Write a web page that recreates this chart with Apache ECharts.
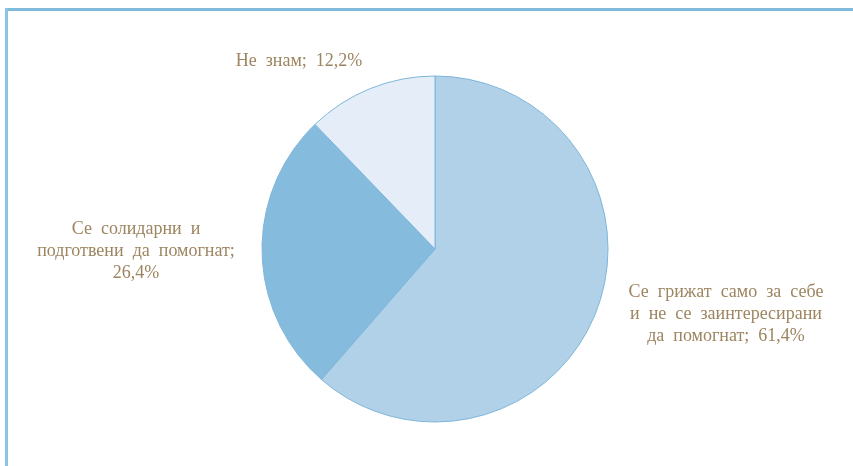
<!DOCTYPE html>
<html>
<head>
<meta charset="utf-8">
<script src="https://cdn.jsdelivr.net/npm/echarts@6/dist/echarts.min.js"></script>
<style>
html,body{margin:0;padding:0;background:#fff;}
#c{width:853px;height:466px;}
</style>
</head>
<body>
<div id="c"></div>
<script>
const categories = [
  'Се  грижат  само  за  себе\nи  не  се  заинтересирани\nда  помогнат;',
  'Се  солидарни  и\nподготвени  да  помогнат;\n',
  'Не  знам;'
];
const values = [61.4, 26.4, 12.2];
const valueLabels = ['61,4%', '26,4%', '12,2%'];
const colors = ['#B0D1E8', '#85BBDD', '#E5EEF8'];

const labelPos = [
  {x: 726, y: 314},
  {x: 136, y: 251},
  {x: 299, y: 61}
];

const chart = echarts.init(document.getElementById('c'), null, {renderer: 'canvas'});
chart.setOption({
  animation: false,
  backgroundColor: '#fff',
  graphic: [
    {type: 'rect', shape: {x: 5, y: 8, width: 848, height: 3}, style: {fill: '#80BADC'}},
    {type: 'rect', shape: {x: 5, y: 8, width: 3, height: 458}, style: {fill: '#8EC3E3'}}
  ],
  series: [{
    type: 'pie',
    center: [435, 249],
    radius: 173,
    startAngle: 90,
    clockwise: true,
    avoidLabelOverlap: false,
    labelLine: {show: false},
    itemStyle: {borderColor: '#7FB6DA', borderWidth: 1},
    label: {
      show: true,
      position: 'outside',
      fontFamily: 'Liberation Serif',
      fontSize: 18,
      lineHeight: 22,
      color: '#9C8560',
      align: 'center',
      formatter: function (p) {
        const i = p.dataIndex;
        if (i === 1) return p.name + valueLabels[i];
        return p.name + '  ' + valueLabels[i];
      }
    },
    labelLayout: function (params) {
      const pos = labelPos[params.dataIndex];
      return {x: pos.x, y: pos.y, align: 'center', verticalAlign: 'middle'};
    },
    data: values.map((v, i) => ({name: categories[i], value: v, itemStyle: {color: colors[i]}}))
  }]
});
</script>
</body>
</html>
